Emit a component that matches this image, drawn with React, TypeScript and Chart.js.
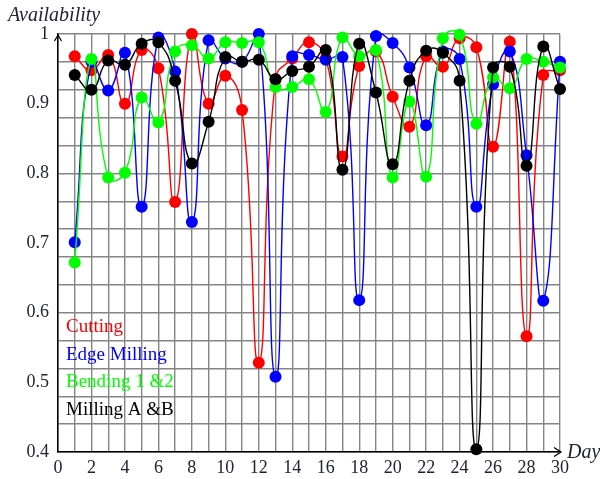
import React, { useEffect, useRef } from "react";
import { Chart, registerables } from "chart.js";

Chart.register(...registerables);

const DAYS = [1, 2, 3, 4, 5, 6, 7, 8, 9, 10, 11, 12, 13, 14, 15, 16, 17, 18, 19, 20, 21, 22, 23, 24, 25, 26, 27, 28, 29, 30];

const CUTTING = [0.968, 0.948, 0.970, 0.900, 0.977, 0.951, 0.759, 1.0, 0.900, 0.940, 0.891, 0.528, 0.935, 0.965, 0.988, 0.965, 0.824, 0.954, 0.975, 0.910, 0.867, 0.968, 0.953, 0.994, 0.981, 0.838, 0.989, 0.566, 0.941, 0.948];
const EDGE_MILLING = [0.701, 0.960, 0.919, 0.973, 0.752, 0.995, 0.946, 0.730, 0.991, 0.965, 0.960, 1.0, 0.508, 0.968, 0.970, 0.963, 0.967, 0.618, 0.997, 0.987, 0.952, 0.869, 0.975, 0.964, 0.752, 0.928, 0.975, 0.826, 0.617, 0.960];
const BENDING = [0.672, 0.964, 0.794, 0.801, 0.909, 0.873, 0.975, 0.984, 0.965, 0.988, 0.987, 0.988, 0.924, 0.924, 0.935, 0.888, 0.995, 0.968, 0.977, 0.794, 0.903, 0.795, 0.994, 0.999, 0.871, 0.938, 0.922, 0.964, 0.960, 0.952];
const MILLING_AB = [0.941, 0.920, 0.962, 0.956, 0.986, 0.988, 0.933, 0.814, 0.874, 0.967, 0.960, 0.963, 0.935, 0.947, 0.953, 0.977, 0.805, 0.986, 0.916, 0.813, 0.933, 0.976, 0.973, 0.933, 0.404, 0.952, 0.953, 0.811, 0.982, 0.921];

const SERIES_NAMES = ["Cutting", "Edge Milling", "Bending 1 &2", "Milling A &B"];
const SERIES_COLORS = ["#ff0000", "#0000ff", "#00ff00", "#000000"];

const X_GRID = [0, 1, 2, 3, 4, 5, 6, 7, 8, 9, 10, 11, 12, 13, 14, 15, 16, 17, 18, 19, 20, 21, 22, 23, 24, 25, 26, 27, 28, 29, 30];
const X_LABELS = [0, 2, 4, 6, 8, 10, 12, 14, 16, 18, 20, 22, 24, 26, 28, 30];
const Y_GRID = [0.4, 0.44, 0.48, 0.52, 0.56, 0.6, 0.64, 0.68, 0.72, 0.76, 0.8, 0.84, 0.88, 0.92, 0.96, 1.0];
const Y_LABELS = [0.4, 0.5, 0.6, 0.7, 0.8, 0.9, 1.0];

const Y_TITLE = "Availability";
const X_TITLE = "Day";

const FONT = '"Liberation Serif", "Times New Roman", serif';

const near = (arr: number[], v: number) => arr.some((a) => Math.abs(a - v) < 1e-6);

const overlayPlugin = {
  id: "overlay",
  afterDraw(chart: any) {
    const ctx = chart.ctx;
    const { left, right, top, bottom } = chart.chartArea;
    ctx.save();
    ctx.strokeStyle = "#000";
    ctx.lineWidth = 1.3;
    ctx.beginPath();
    ctx.moveTo(left - 3.5, top + 7);
    ctx.lineTo(left, top + 1);
    ctx.lineTo(left + 3.5, top + 7);
    ctx.stroke();
    ctx.beginPath();
    ctx.moveTo(right - 6, bottom - 4.5);
    ctx.lineTo(right + 1, bottom);
    ctx.lineTo(right - 6, bottom + 4.5);
    ctx.stroke();
    ctx.fillStyle = "#222233";
    ctx.font = "italic 20px " + FONT;
    ctx.textBaseline = "alphabetic";
    ctx.textAlign = "left";
    ctx.fillText(Y_TITLE, 8, 21);
    ctx.fillText(X_TITLE, right + 7, bottom + 6);
    ctx.font = "19px " + FONT;
    ctx.textBaseline = "middle";
    SERIES_NAMES.forEach((name, i) => {
      ctx.fillStyle = SERIES_COLORS[i];
      ctx.fillText(name, left + 8, 327 + i * 27.7);
    });
    ctx.restore();
  },
};

export default function App() {
  const canvasRef = useRef<HTMLCanvasElement | null>(null);

  useEffect(() => {
    const canvas = canvasRef.current;
    if (!canvas) return;
    const seriesValues = [CUTTING, EDGE_MILLING, BENDING, MILLING_AB];
    const chart = new Chart(canvas, {
      type: "line",
      data: {
        datasets: seriesValues.map((vals, i) => ({
          label: SERIES_NAMES[i],
          data: DAYS.map((d, j) => ({ x: d, y: vals[j] })),
          borderColor: SERIES_COLORS[i],
          backgroundColor: SERIES_COLORS[i],
          pointBackgroundColor: SERIES_COLORS[i],
          pointBorderColor: SERIES_COLORS[i],
          pointBorderWidth: 0,
          pointRadius: 6,
          borderWidth: 1.4,
          tension: 0.5,
          fill: false,
          clip: false as any,
          order: 4 - i,
        })),
      },
      options: {
        responsive: false,
        animation: false,
        devicePixelRatio: 1,
        layout: { padding: { left: 0, top: 34, right: 40, bottom: 0 } },
        elements: { line: { capBezierPoints: false } },
        plugins: {
          legend: { display: false },
          tooltip: { enabled: false },
        },
        scales: {
          x: {
            type: "linear",
            min: 0,
            max: 30,
            afterBuildTicks: (scale: any) => {
              scale.ticks = X_GRID.map((v) => ({ value: v }));
            },
            afterFit: (scale: any) => {
              scale.height = 27;
            },
            grid: { color: "#858585", lineWidth: 1.4, drawTicks: false },
            border: { color: "#000", width: 1.5 },
            ticks: {
              autoSkip: false,
              maxRotation: 0,
              padding: 5,
              color: "#222233",
              font: { family: FONT, size: 18 },
              callback: (v: any) => (near(X_LABELS, Number(v)) ? String(v) : ""),
            },
          },
          y: {
            type: "linear",
            min: 0.4,
            max: 1.0,
            afterBuildTicks: (scale: any) => {
              const vals = [...Y_GRID, ...Y_LABELS]
                .map((v) => Math.round(v * 100) / 100)
                .filter((v, i, a) => a.indexOf(v) === i)
                .sort((a, b) => a - b);
              scale.ticks = vals.map((v) => ({ value: v }));
            },
            afterFit: (scale: any) => {
              scale.width = 58;
            },
            grid: {
              color: (c: any) => (c.tick && near(Y_GRID, c.tick.value) ? "#858585" : "rgba(0,0,0,0)"),
              lineWidth: 1.4,
              drawTicks: false,
            },
            border: { color: "#000", width: 1.5 },
            ticks: {
              autoSkip: false,
              padding: 9,
              color: "#222233",
              font: { family: FONT, size: 18 },
              callback: (v: any) => {
                const n = Number(v);
                if (!near(Y_LABELS, n)) return "";
                return Math.abs(n - 1) < 1e-6 ? "1" : n.toFixed(1);
              },
            },
          },
        },
      },
      plugins: [overlayPlugin],
    } as any);
    return () => chart.destroy();
  }, []);

  return (
    <div style={{ position: "absolute", left: 0, top: 0, width: 600, height: 479, background: "#fff" }}>
      <canvas ref={canvasRef} width={600} height={479} />
    </div>
  );
}
